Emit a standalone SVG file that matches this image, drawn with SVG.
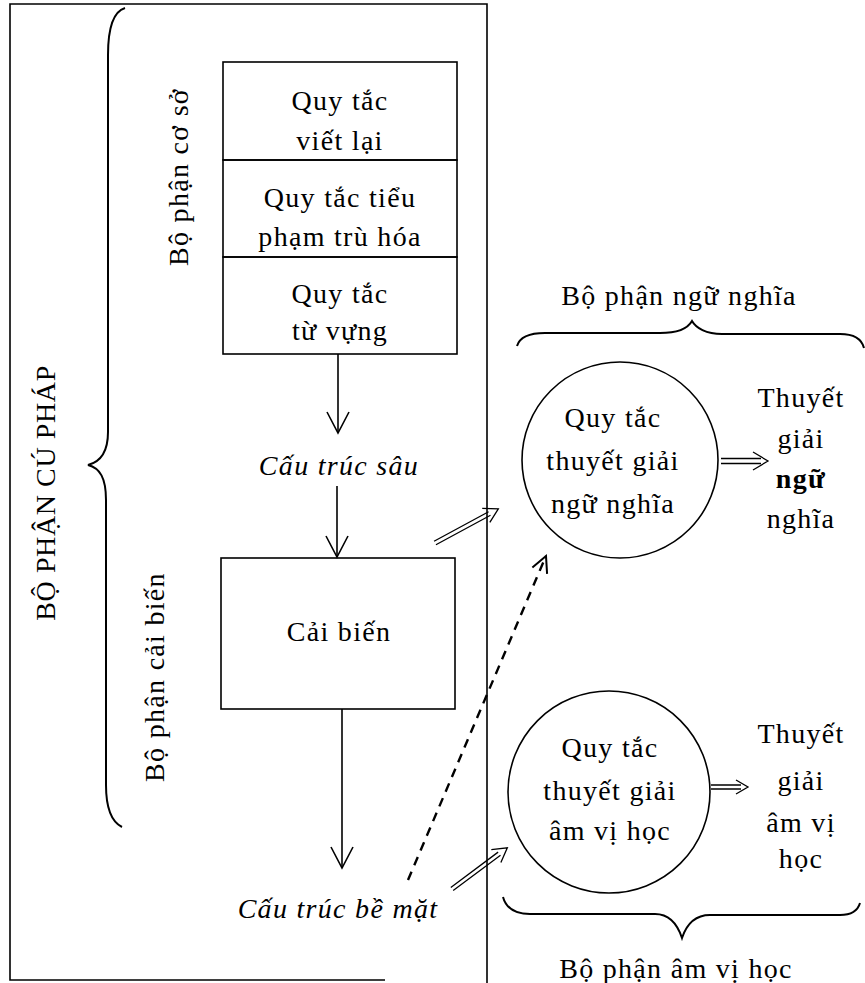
<svg xmlns="http://www.w3.org/2000/svg" width="865" height="983" viewBox="0 0 865 983">
<style>
text{font-family:"Liberation Serif","Times New Roman",serif;font-size:28px;fill:#000;letter-spacing:1.3px;text-anchor:middle}
.it{font-style:italic}
.ln{fill:none;stroke:#000;stroke-width:1.6}
.thin{fill:none;stroke:#000;stroke-width:1.3}
.br{fill:none;stroke:#000;stroke-width:2}
.dash{fill:none;stroke:#000;stroke-width:2.4;stroke-dasharray:9 7}
</style>
<defs>
<marker id="v" markerUnits="userSpaceOnUse" markerWidth="26" markerHeight="26" viewBox="-24 -13 26 26" refX="0" refY="0" orient="auto">
<path d="M-21,-11 L0,0 L-21,11" fill="none" stroke="#000" stroke-width="1.6"/>
</marker>
<marker id="vd" markerUnits="userSpaceOnUse" markerWidth="26" markerHeight="26" viewBox="-24 -13 26 26" refX="0" refY="0" orient="auto">
<path d="M-16,-8 L0,0 L-16,8" fill="none" stroke="#000" stroke-width="2"/>
</marker>
</defs>

<g id="frame">
<path class="ln" d="M487,983 V4 H10 V980 H385"/>
</g>

<g id="syntax-brace">
<path class="br" d="M125,8 C112,12 108,30 108,55 L108,432 C108,452 100,462 88,465 C100,468 106,478 106,500 L106,785 C106,810 112,822 122,827"/>
<text transform="translate(55,493) rotate(-90)" style="letter-spacing:0.6px">BỘ PHẬN CÚ PHÁP</text>
</g>

<g id="base-label">
<text transform="translate(188,177) rotate(-90)">Bộ phận cơ sở</text>
</g>
<g id="transform-label">
<text transform="translate(164,677) rotate(-90)">Bộ phận cải biến</text>
</g>

<g id="rules-rewrite">
<rect class="ln" x="223" y="62" width="234" height="98"/>
<text x="340" y="110">Quy tắc</text>
<text x="340" y="150">viết lại</text>
</g>
<g id="rules-subcat">
<rect class="ln" x="223" y="160" width="234" height="97"/>
<text x="340" y="207">Quy tắc tiểu</text>
<text x="340" y="246">phạm trù hóa</text>
</g>
<g id="rules-lexicon">
<rect class="ln" x="223" y="257" width="234" height="97"/>
<text x="340" y="303">Quy tắc</text>
<text x="340" y="340">từ vựng</text>
</g>

<g id="deep-structure">
<text class="it" x="339" y="475">Cấu trúc sâu</text>
</g>

<g id="transformations">
<rect class="ln" x="221" y="558" width="234" height="151"/>
<text x="339" y="641">Cải biến</text>
</g>

<g id="surface-structure">
<text class="it" x="338" y="918">Cấu trúc bề mặt</text>
</g>

<g id="semantic-brace">
<text x="679" y="305">Bộ phận ngữ nghĩa</text>
<path class="br" d="M517,346 C520,336 530,333 545,333 L660,333 C678,333 688,328 692,321 C696,328 706,334 722,334 L840,334 C855,334 862,340 864,348"/>
</g>

<g id="semantic-rules">
<circle class="ln" cx="620" cy="460" r="98" stroke-width="2"/>
<text x="613" y="427">Quy tắc</text>
<text x="613" y="470">thuyết giải</text>
<text x="613" y="513">ngữ nghĩa</text>
</g>

<g id="semantic-interp">
<text x="801" y="407">Thuyết</text>
<text x="801" y="448">giải</text>
<text x="801" y="488" style="font-weight:bold">ngữ</text>
<text x="801" y="528">nghĩa</text>
</g>

<g id="phon-rules">
<circle class="ln" cx="609" cy="792" r="101" stroke-width="2"/>
<text x="610" y="757">Quy tắc</text>
<text x="610" y="800">thuyết giải</text>
<text x="610" y="840">âm vị học</text>
</g>

<g id="phon-interp">
<text x="801" y="743">Thuyết</text>
<text x="801" y="790">giải</text>
<text x="801" y="832">âm vị</text>
<text x="801" y="868">học</text>
</g>

<g id="phon-brace">
<path class="br" d="M503,897 C506,908 515,914 530,914 L655,914 C670,914 678,926 682,938 C686,926 694,915 710,915 L840,915 C852,915 858,910 860,903"/>
<text x="676" y="978">Bộ phận âm vị học</text>
</g>

<g id="connectors">
<line class="ln" x1="338" y1="354" x2="338" y2="433" marker-end="url(#v)"/>
<line class="ln" x1="337" y1="486" x2="337" y2="557" marker-end="url(#v)"/>
<line class="ln" x1="342" y1="709" x2="342" y2="868" marker-end="url(#v)"/>
<line class="dash" x1="408" y1="880" x2="546" y2="556" marker-end="url(#vd)"/>
<g transform="translate(435,543) rotate(-28.4)">
<path class="thin" d="M0,-2 H62 M0,2 H62 M58,-8 L72,0 L58,8"/>
</g>
<g transform="translate(452,889) rotate(-36.7)">
<path class="thin" d="M0,-2 H59 M0,2 H59 M55,-8 L69,0 L55,8"/>
</g>
<g transform="translate(721,461)">
<path class="thin" d="M0,-2.5 H40 M0,2.5 H40 M32,-9 L47,0 L32,9"/>
</g>
<g transform="translate(711,787)">
<path class="thin" d="M0,-2 H30 M0,2 H30 M25,-7 L37,0 L25,7"/>
</g>
</g>
</svg>
